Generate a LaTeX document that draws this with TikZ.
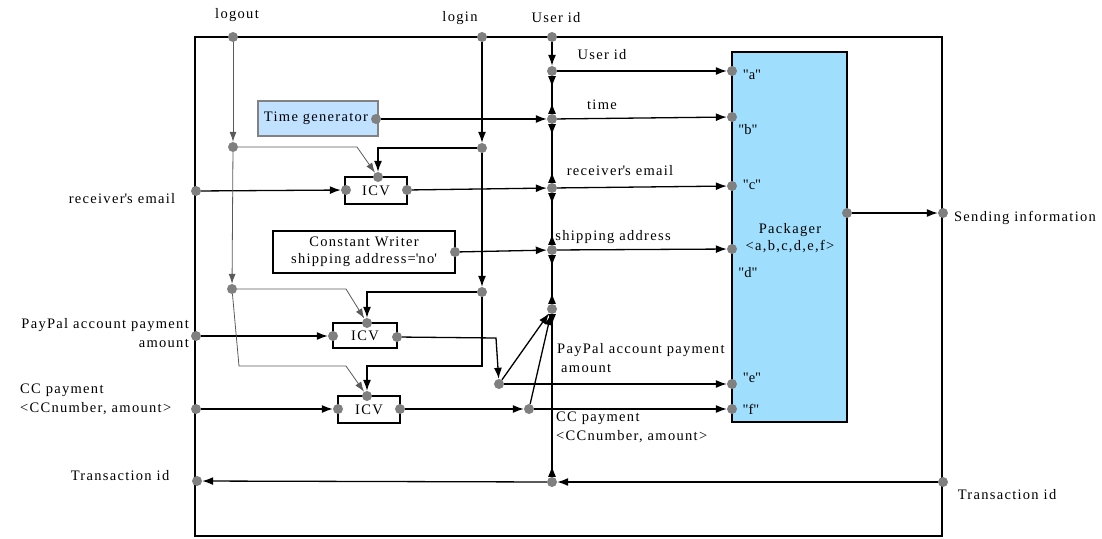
\documentclass[tikz,border=0pt]{standalone}
\usepackage{fontspec}
\setmainfont{Liberation Serif}[LetterSpace=9]
\usetikzlibrary{arrows.meta}
\definecolor{dotgray}{RGB}{128,128,128}
\definecolor{wiregray}{RGB}{90,90,90}
\definecolor{pkgblue}{RGB}{159,223,253}
\definecolor{timeblue}{RGB}{192,225,255}
\definecolor{boxgray}{RGB}{130,130,130}
\newcommand\dq{\textquotedbl}
\tikzset{
  dot/.style={circle, fill=dotgray, inner sep=0pt, minimum size=10pt},
  wire/.style={line width=1.3pt, draw=black},
  gwire/.style={line width=0.8pt, draw=wiregray},
  tip/.style={-{Latex[length=11pt,width=8pt]}},
  gtip/.style={-{Latex[length=10pt,width=7pt]}},
  bustip/.style={{Latex[reversed,length=11pt,width=8pt]}-{Latex[reversed,length=11pt,width=8pt]}},
  lbl/.style={inner sep=0pt, font=\fontsize{14.5}{18}\selectfont},
  blk/.style={draw=black, line width=1.3pt, inner sep=0pt},
}
\begin{document}
\begin{tikzpicture}[x=1pt,y=-1pt]
\useasboundingbox (0,0) rectangle (1102,538);
% frame
\draw[line width=1.3pt] (195,37) rectangle (942,536);
% boxes
\node[blk, fill=pkgblue, minimum width=115pt, minimum height=370pt] (pkg) at (789.5,237) {};
\node[draw=boxgray, line width=1.3pt, fill=timeblue, inner sep=0pt, minimum width=120pt, minimum height=35pt] (timebox) at (318,118.5) {};
\node[lbl] (timetext) at (316,118) {Time generator};
\node[blk, minimum width=62pt, minimum height=27pt] (icv1) at (376,190.5) {};
\node[lbl] at (376,190.5) {ICV};
\node[blk, minimum width=64pt, minimum height=25pt] (icv2) at (365,335.5) {};
\node[lbl] at (365,335.5) {ICV};
\node[blk, minimum width=62pt, minimum height=27pt] (icv3) at (369,409.5) {};
\node[lbl] at (369,409.5) {ICV};
\node[blk, minimum width=182pt, minimum height=42pt] (cw) at (364,252) {};
\node[lbl, align=center] (cwtext) at (364,252) {Constant Writer\\[-1pt]shipping address=\textquotesingle no\textquotesingle};
\node[lbl, align=center] (pkgtext) at (790,238) {Packager\\[-1pt]<a,b,c,d,e,f>};
% ports / dots
\node[dot] (pa) at (732,71) {};
\node[dot] (pb) at (732,117) {};
\node[dot] (pc) at (732,186) {};
\node[dot] (pd) at (732,249) {};
\node[dot] (pe) at (732,384) {};
\node[dot] (pf) at (732,409) {};
\node[dot] (pout) at (847,213) {};
\node[dot] (sendP) at (943,213) {};
\node[dot] (tP) at (376,119) {};
\node[dot] (i1l) at (346,190) {};
\node[dot] (i1t) at (378,177) {};
\node[dot] (i1r) at (407,190) {};
\node[dot] (i2l) at (333,336) {};
\node[dot] (i2t) at (367,323) {};
\node[dot] (i2r) at (397,337) {};
\node[dot] (i3l) at (338,409) {};
\node[dot] (i3t) at (367,396) {};
\node[dot] (i3r) at (400,409) {};
\node[dot] (cwP) at (455,252) {};
\node[dot] (logoutP) at (233,37) {};
\node[dot] (loginP) at (482,37) {};
\node[dot] (uidP) at (552,37) {};
\node[dot] (b1) at (552,71) {};
\node[dot] (b2) at (552,119) {};
\node[dot] (b3) at (552,188) {};
\node[dot] (b4) at (552,250) {};
\node[dot] (b5) at (552,309) {};
\node[dot] (b6) at (552,482) {};
\node[dot] (lo1) at (233,147) {};
\node[dot] (lo2) at (232,289) {};
\node[dot] (li1) at (482,148) {};
\node[dot] (li2) at (482,292) {};
\node[dot] (pe1) at (499,384) {};
\node[dot] (cf1) at (529,409) {};
\node[dot] (recvP) at (196,191) {};
\node[dot] (payP) at (196,336) {};
\node[dot] (ccP) at (196,409) {};
\node[dot] (tidL) at (197,481) {};
\node[dot] (tidR) at (943,482) {};
% bend coordinates
\coordinate (lo1b) at (357,147);
\coordinate (li1b) at (378,148);
\coordinate (lo2b) at (346,289);
\coordinate (li2b) at (367,292);
\coordinate (lo3a) at (239,366);
\coordinate (lo3b) at (346,366);
\coordinate (li3a) at (482,366);
\coordinate (li3b) at (367,366);
\coordinate (i2rb) at (496,338);
% bus
\draw[wire, tip] (uidP) -- (b1);
\draw[wire, bustip] (b1) -- (b2);
\draw[wire, bustip] (b2) -- (b3);
\draw[wire, bustip] (b3) -- (b4);
\draw[wire, bustip] (b4) -- (b5);
\draw[wire, bustip] (b5) -- (b6);
% horizontals into packager
\draw[wire, tip] (b1) -- (pa);
\draw[wire, tip] (tP) -- (b2);
\draw[wire, tip] (b2) -- (pb);
\draw[wire, tip] (recvP) -- (i1l);
\draw[wire, tip] (i1r) -- (b3);
\draw[wire, tip] (b3) -- (pc);
\draw[wire, tip] (cwP) -- (b4);
\draw[wire, tip] (b4) -- (pd);
\draw[wire, tip] (payP) -- (i2l);
\draw[wire, tip] (i2r) -- (i2rb) -- (pe1);
\draw[wire, tip] (pe1) -- (pe);
\draw[wire, tip] (pe1) -- (b5);
\draw[wire, tip] (ccP) -- (i3l);
\draw[wire, tip] (i3r) -- (cf1);
\draw[wire, tip] (cf1) -- (pf);
\draw[wire, tip] (cf1) -- (b5);
\draw[wire, tip] (tidR) -- (b6);
\draw[wire, tip] (b6) -- (tidL);
\draw[wire, tip] (pout) -- (sendP);
% logout
\draw[gwire, gtip] (logoutP) -- (lo1);
\draw[gwire, gtip] (lo1) -- (lo2);
\draw[gwire, gtip] (lo1) -- (lo1b) -- (i1t);
\draw[gwire, gtip] (lo2) -- (lo2b) -- (i2t);
\draw[gwire, gtip] (lo2) -- (lo3a) -- (lo3b) -- (i3t);
% login
\draw[wire, tip] (loginP) -- (li1);
\draw[wire, tip] (li1) -- (li2);
\draw[wire, tip] (li1) -- (li1b) -- (i1t);
\draw[wire, tip] (li2) -- (li2b) -- (i2t);
\draw[wire, tip] (li2) -- (li3a) -- (li3b) -- (i3t);
% labels
\node[lbl] (tlogout) at (237,15) {logout};
\node[lbl] (tlogin) at (460,18) {login};
\node[lbl] (tuid) at (556,18) {User id};
\node[lbl] (luid) at (602,55) {User id};
\node[lbl] (ltime) at (602,105) {time};
\node[lbl] (lrecv) at (620,171) {receiver\textquotesingle s email};
\node[lbl] (lship) at (613,237) {shipping address};
\node[lbl] (la) at (752,75) {\dq a\dq};
\node[lbl] (lb) at (748,130) {\dq b\dq};
\node[lbl] (lc) at (752,185) {\dq c\dq};
\node[lbl] (ld) at (748,273) {\dq d\dq};
\node[lbl] (le) at (752,378) {\dq e\dq};
\node[lbl] (lf) at (751,409) {\dq f\dq};
\node[lbl, anchor=west] (lpay1) at (557,350) {PayPal account payment};
\node[lbl, anchor=west] (lpay2) at (561,368) {amount};
\node[lbl, anchor=west] (lcc1) at (556,418) {CC payment};
\node[lbl, anchor=west] (lcc2) at (556,437) {<CCnumber, amount>};
\node[lbl] (trecv) at (122,199) {receiver\textquotesingle s email};
\node[lbl, anchor=east] (tpay1) at (189,325) {PayPal account payment};
\node[lbl, anchor=east] (tpay2) at (189,343) {amount};
\node[lbl, anchor=west] (tcc1) at (20,390) {CC payment};
\node[lbl, anchor=west] (tcc2) at (20,409) {<CCnumber, amount>};
\node[lbl] (ttidL) at (120,476) {Transaction id};
\node[lbl] (ttidR) at (1007,495) {Transaction id};
\node[lbl] (tsend) at (1025,218) {Sending information};
\end{tikzpicture}
\end{document}
